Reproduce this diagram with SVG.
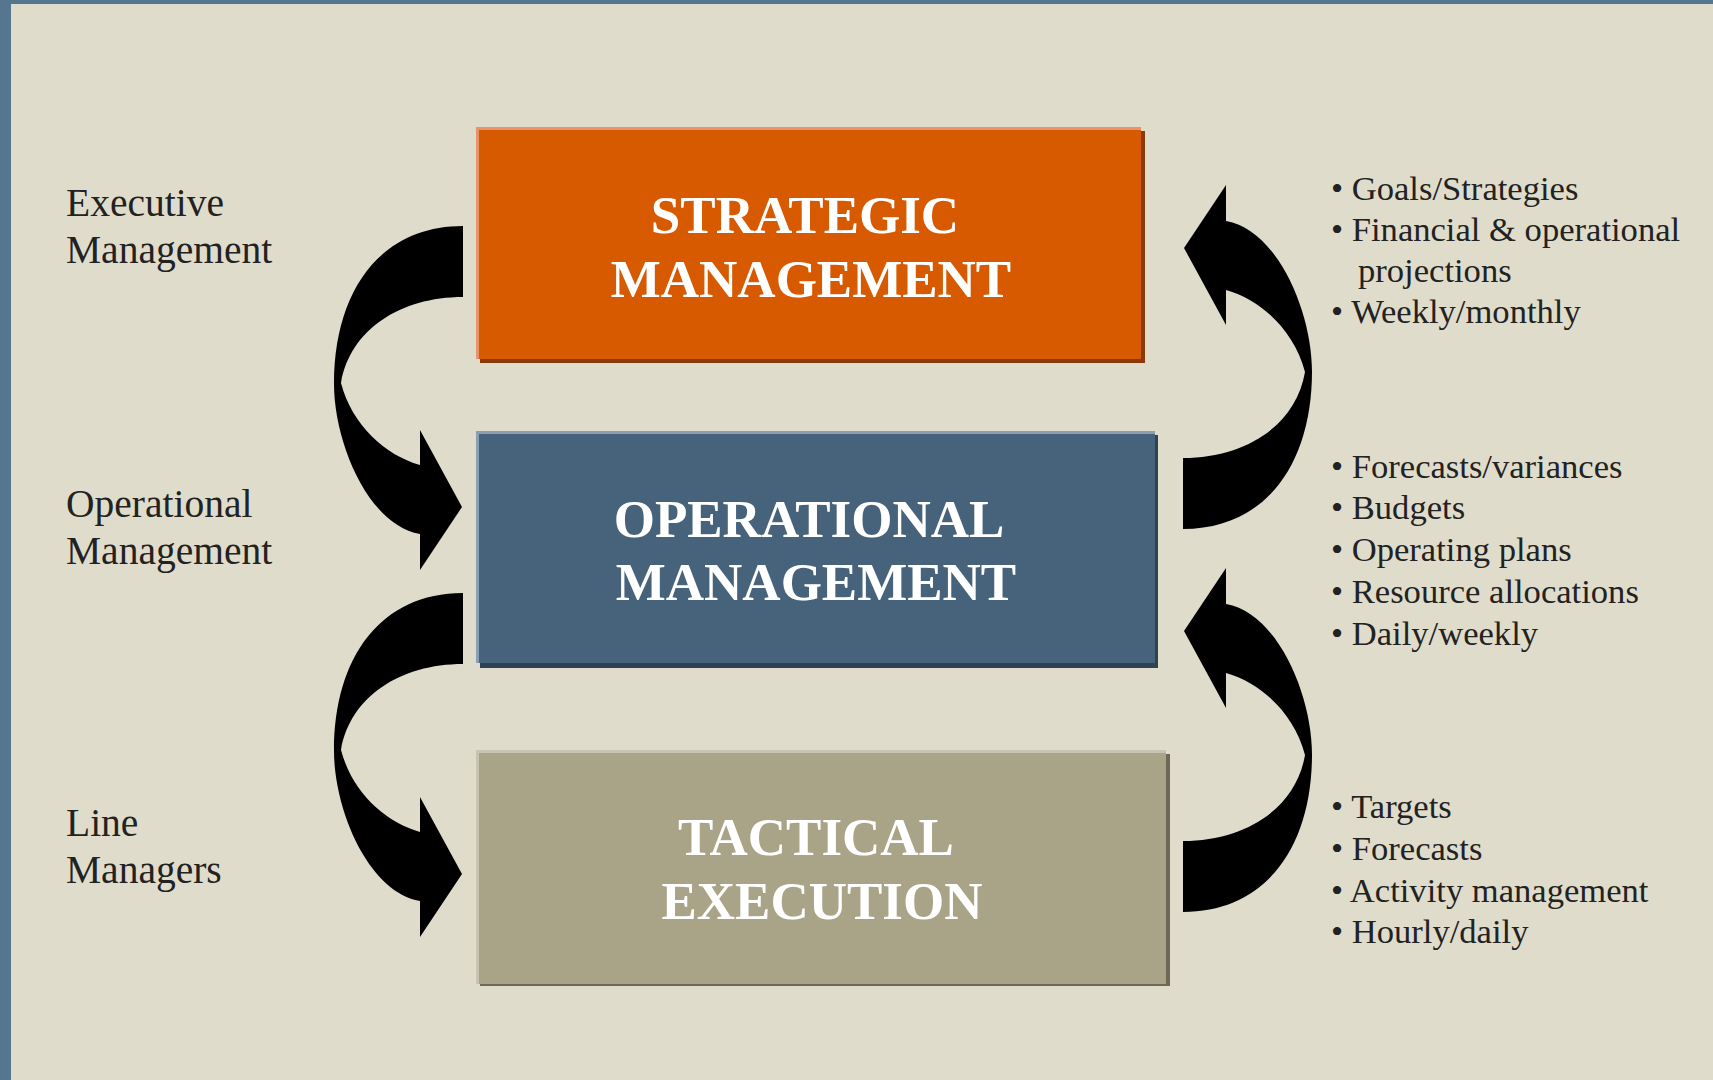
<svg xmlns="http://www.w3.org/2000/svg" width="1713" height="1080" viewBox="0 0 1713 1080">
<defs>
<style>
.lbl{font-family:"Liberation Serif","Times New Roman",serif;font-size:39.5px;fill:#222222}
.bul{font-family:"Liberation Serif","Times New Roman",serif;font-size:34.6px;fill:#222222}
.ttl{font-family:"Liberation Serif","Times New Roman",serif;font-size:53px;font-weight:bold;fill:#ffffff;text-anchor:middle}
.arr{fill:#000000}
</style>
<path id="curveArrow" d="M463,226 C381,226 334,290 334,384 C334,442 368,525 420,534 L420,570 L462,507 L420,430 L420,465 C385,455 352,425 341,383 C350,330 400,297 463,297 Z"/>
</defs>
<rect x="0" y="0" width="1713" height="1080" fill="#E0DCCB"/>
<rect x="0" y="0" width="1713" height="4" fill="#56758F"/>
<rect x="0" y="0" width="11" height="1080" fill="#56758F"/>

<g id="strategic">
<rect x="480" y="131" width="665" height="232" fill="#8A3A0A"/>
<rect x="476" y="127" width="665" height="232" fill="#E8946A"/>
<rect x="479" y="130" width="662" height="229" fill="#D85A00"/>
<text class="ttl" x="805" y="233">STRATEGIC</text>
<text class="ttl" x="811" y="297">MANAGEMENT</text>
</g>

<g id="operational">
<rect x="480" y="435" width="678" height="233" fill="#2E4254"/>
<rect x="476" y="431" width="679" height="232" fill="#8A9FB2"/>
<rect x="479" y="434" width="676" height="229" fill="#47637B"/>
<text class="ttl" x="809" y="537">OPERATIONAL</text>
<text class="ttl" x="816" y="600">MANAGEMENT</text>
</g>

<g id="tactical">
<rect x="480" y="754" width="690" height="232" fill="#6D6956"/>
<rect x="476" y="750" width="690" height="234" fill="#C8C4B2"/>
<rect x="479" y="753" width="687" height="231" fill="#A9A387"/>
<text class="ttl" x="816" y="855">TACTICAL</text>
<text class="ttl" x="822" y="919">EXECUTION</text>
</g>

<g id="label-executive">
<text class="lbl" x="66" y="216">Executive</text>
<text class="lbl" x="66" y="263">Management</text>
</g>
<g id="label-operational">
<text class="lbl" x="66" y="517">Operational</text>
<text class="lbl" x="66" y="564">Management</text>
</g>
<g id="label-line">
<text class="lbl" x="66" y="836">Line</text>
<text class="lbl" x="66" y="883">Managers</text>
</g>

<g id="bullets-strategic">
<text class="bul" x="1331" y="200">• Goals/Strategies</text>
<text class="bul" x="1331" y="241">• Financial &amp; operational</text>
<text class="bul" x="1358" y="282">projections</text>
<text class="bul" x="1331" y="323">• Weekly/monthly</text>
</g>
<g id="bullets-operational">
<text class="bul" x="1331" y="478">• Forecasts/variances</text>
<text class="bul" x="1331" y="519">• Budgets</text>
<text class="bul" x="1331" y="561">• Operating plans</text>
<text class="bul" x="1331" y="603">• Resource allocations</text>
<text class="bul" x="1331" y="645">• Daily/weekly</text>
</g>
<g id="bullets-tactical">
<text class="bul" x="1331" y="818">• Targets</text>
<text class="bul" x="1331" y="860">• Forecasts</text>
<text class="bul" x="1331" y="902">• Activity management</text>
<text class="bul" x="1331" y="943">• Hourly/daily</text>
</g>

<g id="connectors">
<use href="#curveArrow" class="arr"/>
<use href="#curveArrow" class="arr" transform="translate(0,367)"/>
<use href="#curveArrow" class="arr" transform="translate(1646,755) rotate(180)"/>
<use href="#curveArrow" class="arr" transform="translate(1646,1138) rotate(180)"/>
</g>
</svg>
